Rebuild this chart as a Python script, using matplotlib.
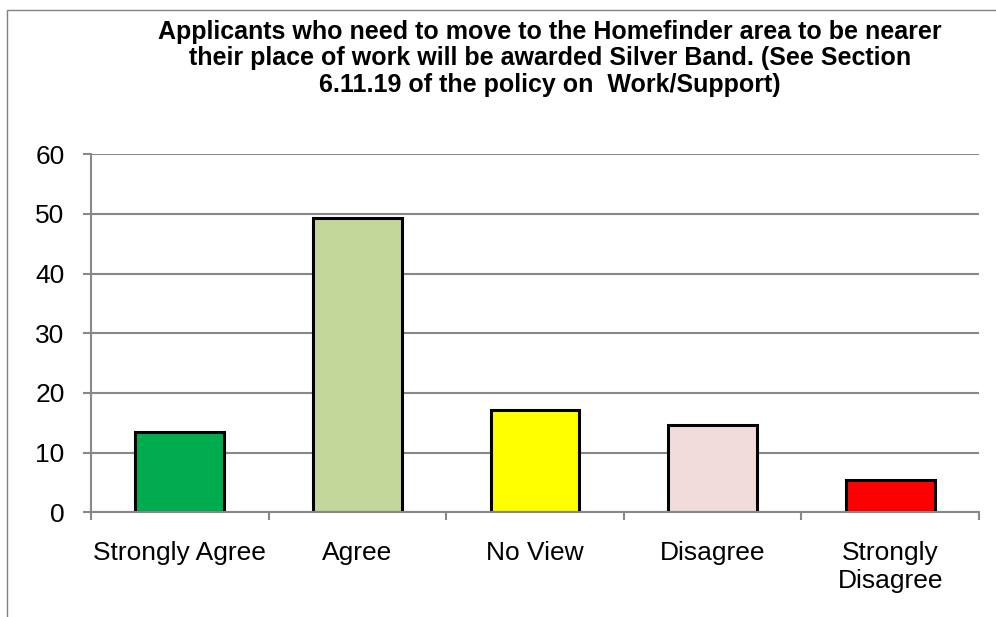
import matplotlib.pyplot as plt
from matplotlib.patches import Rectangle
import numpy as np

plt.rcParams['font.family'] = ['Liberation Sans', 'DejaVu Sans']

# data
categories = ['Strongly Agree', 'Agree', 'No View', 'Disagree', 'Strongly\nDisagree']
values = [13.4, 49.4, 17.2, 14.7, 5.4]
colors = ['#00AC4E', '#C4D79B', '#FFFF00', '#F2DCDB', '#FF0000']
title = ('Applicants who need to move to the Homefinder area to be nearer\n'
         'their place of work will be awarded Silver Band. (See Section\n'
         '6.11.19 of the policy on  Work/Support)')

fig = plt.figure(figsize=(9.96, 6.17), dpi=100)
ax = fig.add_axes([91 / 996, 1 - 512.3 / 617, 888 / 996, 358 / 617])

x = np.arange(len(categories))
ax.bar(x, values, width=0.5, color=colors, edgecolor='black', linewidth=2.2, zorder=3)

ax.set_xlim(-0.5, len(categories) - 0.5)
ax.set_ylim(0, 60)
ax.set_yticks(range(0, 61, 10))
ax.tick_params(axis='y', labelsize=19, length=6, width=1.5, color='#888888', pad=13)

# labels in the middle, tick marks on the category boundaries
ax.set_xticks(x)
ax.set_xticklabels(categories, fontsize=19, linespacing=1.2)
ax.tick_params(axis='x', which='major', length=0, pad=21)
ax.set_xticks(np.arange(-0.5, len(categories)), minor=True)
ax.tick_params(axis='x', which='minor', length=6, width=1.5, color='#888888')

ax.grid(axis='y', color='#888888', linewidth=1.5, zorder=0)
for s in ['top', 'right']:
    ax.spines[s].set_visible(False)
for s in ['left', 'bottom']:
    ax.spines[s].set_color('#888888')
    ax.spines[s].set_linewidth(1.5)
    ax.spines[s].set_zorder(4)

fig.text(550 / 996, 1 - 20 / 617, title, ha='center', va='top', fontsize=18,
         fontweight='bold', linespacing=1.13, multialignment='center')

# chart border
fig.patches.append(Rectangle((7 / 996, -0.1), 1.2, 1.1 - 10 / 617, transform=fig.transFigure,
                             fill=False, edgecolor='#808080', linewidth=1))

fig.savefig('out.png', dpi=100)
